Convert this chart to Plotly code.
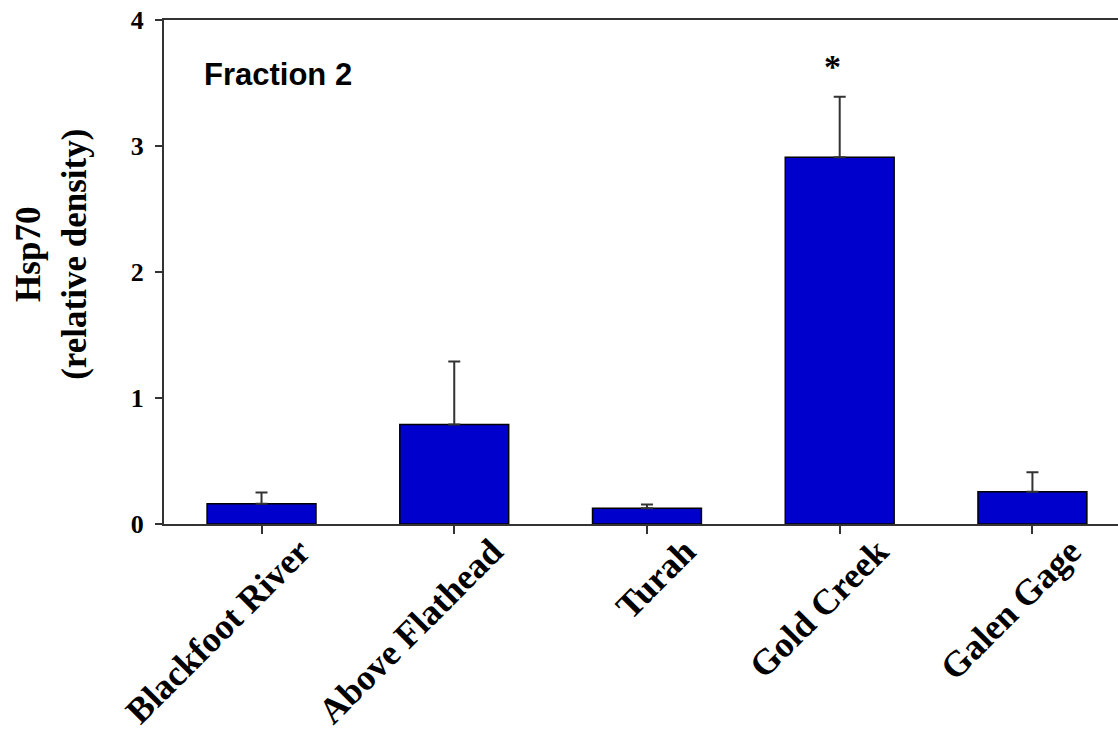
import plotly.graph_objects as go

sites = ["Blackfoot River", "Above Flathead", "Turah", "Gold Creek", "Galen Gage"]
hsp70 = [0.16, 0.79, 0.125, 2.91, 0.255]
err_plus = [0.09, 0.50, 0.03, 0.48, 0.155]
signif = ["", "", "", "*", ""]
y_ticks = [0, 1, 2, 3, 4]
panel_label = "Fraction 2"
y_title = "Hsp70<br>(relative density)"

serif = "Liberation Serif, Times New Roman, serif"
sans = "Liberation Sans, Arial, sans-serif"

fig = go.Figure()
fig.add_trace(go.Bar(
    x=sites, y=hsp70, width=0.565,
    marker=dict(color="#0000CC", line=dict(color="#000000", width=1.5)),
    error_y=dict(type="data", symmetric=False, array=err_plus,
                 arrayminus=[0] * len(err_plus),
                 color="#333333", thickness=2, width=6),
))

annotations = [
    dict(text=panel_label, xref="paper", yref="paper", x=0.04, y=0.892,
         xanchor="left", yanchor="middle", showarrow=False,
         font=dict(family=sans, size=31, color="black", weight="bold")),
    dict(text="<b>" + y_title + "</b>", xref="paper", yref="paper",
         x=-0.118, y=0.535, xanchor="center", yanchor="middle",
         textangle=-90, showarrow=False,
         font=dict(family=serif, size=35, color="black")),
]
for s, v, e, mark in zip(sites, hsp70, err_plus, signif):
    if mark:
        annotations.append(dict(text="<b>" + mark + "</b>", x=s, y=v + e + 0.24,
                                xref="x", yref="y", xshift=-7, showarrow=False,
                                yanchor="middle",
                                font=dict(family=serif, size=34, color="black")))

fig.update_layout(
    width=1118, height=730,
    margin=dict(l=164, r=0, t=20, b=206, autoexpand=False),
    plot_bgcolor="white", paper_bgcolor="white",
    showlegend=False,
    annotations=annotations,
    xaxis=dict(range=[-0.506, 4.444], showline=True, linecolor="#333333",
               linewidth=2, mirror=True, ticks="outside", ticklen=8,
               tickwidth=2, tickcolor="#333333", tickangle=-45,
               showgrid=False, zeroline=False, automargin=False,
               ticklabelshift=38, ticklabelstandoff=-18,
               tickfont=dict(family=serif, size=36, color="black", weight="bold")),
    yaxis=dict(range=[0, 4], tickvals=y_ticks, showline=True,
               linecolor="#333333", linewidth=2, ticks="outside", ticklen=7,
               tickwidth=2, tickcolor="#333333", showgrid=False, zeroline=False,
               automargin=False, ticklabelstandoff=6,
               tickfont=dict(family=serif, size=26, color="black", weight="bold")),
)

fig.write_html("out.html", config={"displayModeBar": False},
               post_script="document.body.style.margin='0px';")
